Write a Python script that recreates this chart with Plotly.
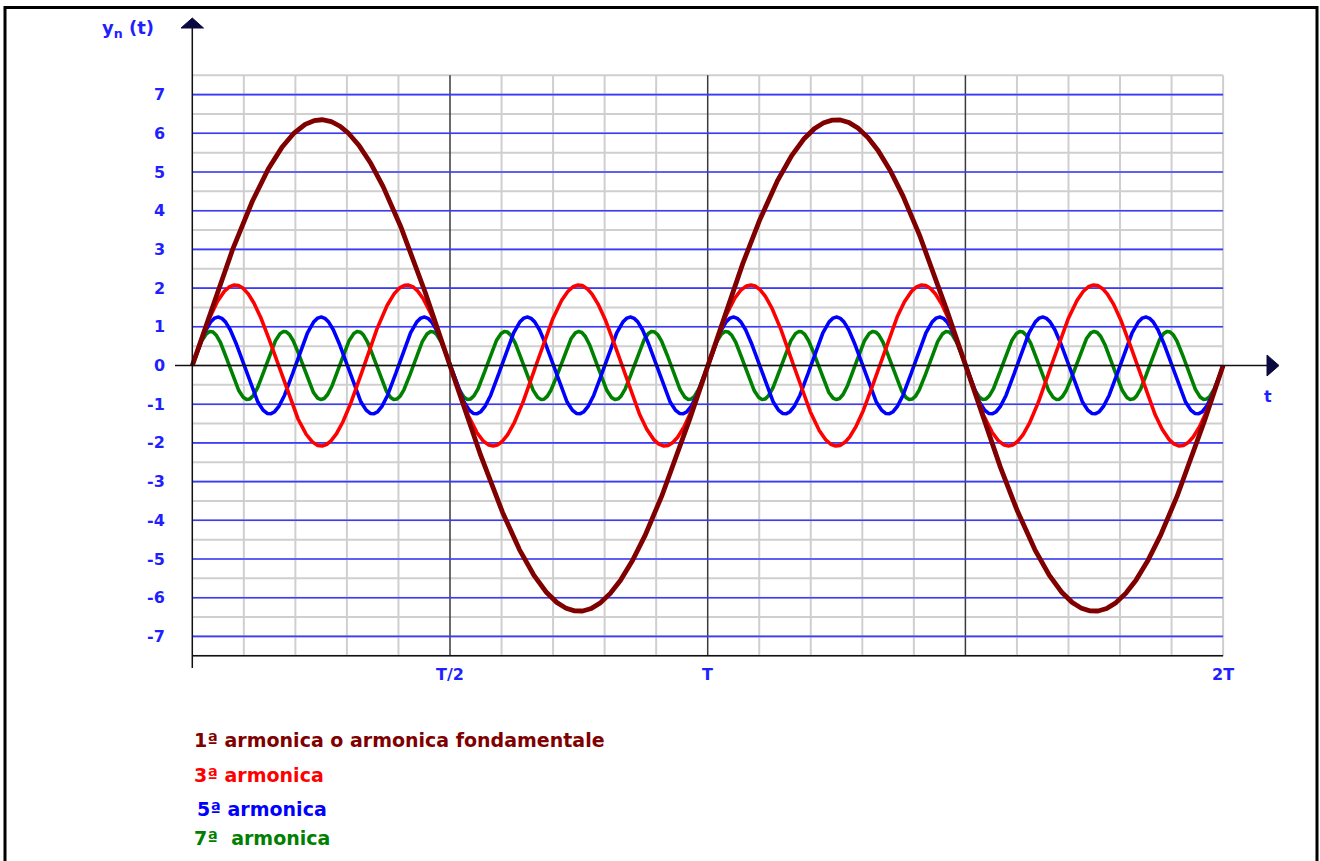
import numpy as np
import plotly.graph_objects as go

# ---- data ----
harmonic_order = [1, 3, 5, 7]
amplitudes = [6.35, 2.08, 1.25, 0.88]          # peak values
series_names = ["1ª armonica o armonica fondamentale", "3ª armonica", "5ª armonica", "7ª  armonica"]
series_colors = ["#800000", "#ff0000", "#0000ff", "#008000"]
series_widths = [4.8, 3.6, 3.6, 3.6]
y_ticks = [7, 6, 5, 4, 3, 2, 1, 0, -1, -2, -3, -4, -5, -6, -7]
x_tick_vals = [0.5, 1.0, 2.0]
x_tick_text = ["T/2", "T", "2T"]

# ---- pixel geometry -> data ranges (T = 1) ----
W, H = 1320, 861
X0PX, PX_PER_T = 192.3, 515.4
Y0PX, PX_PER_U = 365.5, 38.7
def tx(px): return (px - X0PX) / PX_PER_T
def vy(py): return (Y0PX - py) / PX_PER_U

BLUE_TXT = "#1f1fff"
fig = go.Figure()

shapes = []
# horizontal grey grid (half units)
for k in range(-15, 16):
    v = k * 0.5
    shapes.append(dict(type="line", x0=0, x1=2, y0=v, y1=v, line=dict(color="#cfcfcf", width=2), layer="below"))
# vertical grey grid (T/10)
for k in range(1, 21):
    t = k / 10
    major = (k % 5 == 0 and k != 20)
    shapes.append(dict(type="line", x0=t, x1=t, y0=-7.5, y1=7.5,
                       line=dict(color="#3a3a3a" if major else "#cfcfcf", width=1.5 if major else 2), layer="below"))
# blue integer lines
for v in y_ticks:
    if v != 0:
        shapes.append(dict(type="line", x0=0, x1=2, y0=v, y1=v, line=dict(color="#3b3bff", width=1.6), layer="below"))
# bottom black line
shapes.append(dict(type="line", x0=0, x1=2, y0=-7.5, y1=-7.5, line=dict(color="#111", width=1.5), layer="below"))
# y axis
shapes.append(dict(type="line", x0=0, x1=0, y0=vy(668), y1=vy(24), line=dict(color="#111", width=1.5)))
shapes.append(dict(type="path", path=f"M {tx(181)} {vy(28)} L {tx(203.5)} {vy(28)} L {tx(192.3)} {vy(18)} Z",
                   fillcolor="#0a0a40", line=dict(color="#0a0a40", width=1)))
# x axis
shapes.append(dict(type="line", x0=tx(175), x1=tx(1268), y0=0, y1=0, line=dict(color="#111", width=1.5)))
shapes.append(dict(type="path", path=f"M {tx(1267)} {vy(355)} L {tx(1267)} {vy(376)} L {tx(1279)} {vy(365.5)} Z",
                   fillcolor="#0a0a40", line=dict(color="#0a0a40", width=1)))
# outer frame
shapes.append(dict(type="rect", xref="paper", yref="paper", x0=5 / W, x1=1317 / W, y0=1 - 866 / H, y1=1 - 7.5 / H,
                   line=dict(color="#000", width=3)))

# curves
t = np.linspace(0, 2, 4001)
for idx in [3, 2, 1, 0]:
    n, a = harmonic_order[idx], amplitudes[idx]
    fig.add_trace(go.Scatter(x=t, y=a * np.sin(2 * np.pi * n * t), mode="lines",
                             line=dict(color=series_colors[idx], width=series_widths[idx]),
                             name=series_names[idx], showlegend=False, hoverinfo="skip"))

ann = []
font_tick = dict(family="DejaVu Sans", size=16, color=BLUE_TXT, weight="bold")
for v in y_ticks:
    ann.append(dict(x=tx(167), y=v, text=str(v), xanchor="right", yanchor="middle",
                    showarrow=False, font=font_tick))
for xv, xt in zip(x_tick_vals, x_tick_text):
    ann.append(dict(x=xv, y=vy(674), text=xt, xanchor="center", yanchor="middle",
                    showarrow=False, font=font_tick))
ann.append(dict(x=tx(128), y=vy(29), text="y<sub>n</sub> (t)", xanchor="center", yanchor="middle",
                showarrow=False, font=dict(family="DejaVu Sans", size=18, color=BLUE_TXT, weight="bold")))
ann.append(dict(x=tx(1268), y=vy(396), text="t", xanchor="center", yanchor="middle",
                showarrow=False, font=font_tick))
legend_y = [740, 775, 809, 838]
legend_x = [192, 192, 195, 192]
for name, col, ly, lx in zip(series_names, series_colors, legend_y, legend_x):
    ann.append(dict(x=tx(lx), y=vy(ly), text=name, xanchor="left", yanchor="middle", showarrow=False,
                    font=dict(family="DejaVu Sans", size=19, color=col, weight="bold")))

fig.update_layout(
    width=W, height=H, margin=dict(l=0, r=0, t=0, b=0, pad=0),
    paper_bgcolor="white", plot_bgcolor="white",
    xaxis=dict(range=[tx(0), tx(W)], visible=False, fixedrange=True),
    yaxis=dict(range=[vy(H), vy(0)], visible=False, fixedrange=True),
    shapes=shapes, annotations=ann, showlegend=False,
)
fig.write_html("out.html", config={"displayModeBar": False},
               post_script="document.body.style.margin='0';")
